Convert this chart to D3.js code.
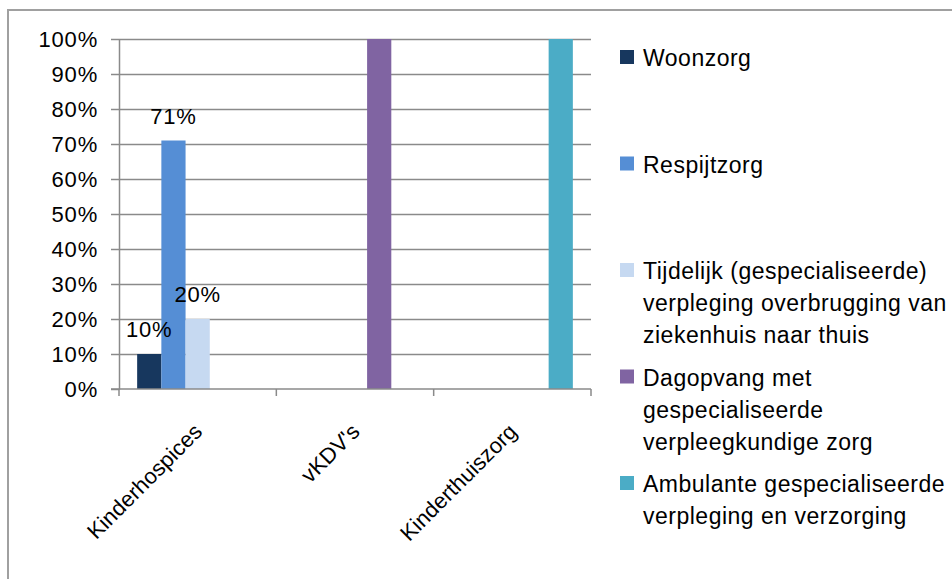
<!DOCTYPE html>
<html>
<head>
<meta charset="utf-8">
<script src="https://cdn.jsdelivr.net/npm/d3@7"></script>
<style>
  body { margin: 0; background: #fff; }
  svg { display: block; font-family: "Liberation Sans", Arial, sans-serif; }
  .grid line { stroke: #8a8a8a; stroke-width: 1.5; }
  .grid .domain { display: none; }
  .axis path, .axis line { stroke: #8a8a8a; stroke-width: 1.5; }
  .axis text { fill: #000; font-size: 22px; letter-spacing: 0.8px; }
  .axis text.cat { letter-spacing: 0.1px; }
</style>
</head>
<body>
<svg id="chart"></svg>
<script>
const categories = ["Kinderhospices", "vKDV's", "Kinderthuiszorg"];
const seriesNames = [
  "Woonzorg",
  "Respijtzorg",
  "Tijdelijk (gespecialiseerde) verpleging overbrugging van ziekenhuis naar thuis",
  "Dagopvang met gespecialiseerde verpleegkundige zorg",
  "Ambulante gespecialiseerde verpleging en verzorging"
];
const legendLines = [
  ["Woonzorg"],
  ["Respijtzorg"],
  ["Tijdelijk (gespecialiseerde)", "verpleging  overbrugging van", "ziekenhuis naar thuis"],
  ["Dagopvang met", "gespecialiseerde", "verpleegkundige zorg"],
  ["Ambulante gespecialiseerde", "verpleging en verzorging"]
];
const woonzorg = [0.10, null, null];
const respijtzorg = [0.71, null, null];
const tijdelijk = [0.20, null, null];
const dagopvang = [null, 1.00, null];
const ambulante = [null, null, 1.00];
const yTicks = [0, 0.1, 0.2, 0.3, 0.4, 0.5, 0.6, 0.7, 0.8, 0.9, 1.0];
const colors = ["#17375e", "#558ed5", "#c6d9f1", "#8064a2", "#4bacc6"];
const showLabels = [true, true, true, false, false];

const seriesValues = [woonzorg, respijtzorg, tijdelijk, dagopvang, ambulante];

const W = 952, H = 579;
const plot = { left: 119, right: 591, top: 39, bottom: 389 };
const fmtPct = d3.format(".0%");

const svg = d3.select("#chart")
    .attr("width", W)
    .attr("height", H);

// outer chart border
svg.append("rect")
    .attr("x", 8).attr("y", 10)
    .attr("width", W + 20).attr("height", H + 20)
    .attr("fill", "none")
    .attr("stroke", "#a0a0a0")
    .attr("stroke-width", 2);

const x0 = d3.scaleBand()
    .domain(categories)
    .range([plot.left, plot.right])
    .padding(0);

const x1 = d3.scaleBand()
    .domain(d3.range(seriesNames.length))
    .range([0, x0.bandwidth()])
    .paddingInner(0)
    .paddingOuter(0.75);

const y = d3.scaleLinear()
    .domain([0, 1])
    .range([plot.bottom, plot.top]);

// gridlines
svg.append("g")
    .attr("class", "grid")
    .attr("transform", `translate(${plot.left},0)`)
    .call(d3.axisLeft(y).tickValues(yTicks.slice(1))
        .tickSize(-(plot.right - plot.left))
        .tickFormat(""));

// bars
const bars = [];
seriesValues.forEach((vals, si) => {
    vals.forEach((v, ci) => {
        if (v != null) bars.push({ si, cat: categories[ci], v });
    });
});

svg.append("g")
    .selectAll("rect")
    .data(bars)
    .join("rect")
    .attr("x", d => x0(d.cat) + x1(d.si))
    .attr("y", d => y(d.v))
    .attr("width", x1.bandwidth())
    .attr("height", d => y(0) - y(d.v))
    .attr("fill", d => colors[d.si]);

// y axis
svg.append("g")
    .attr("class", "axis")
    .attr("transform", `translate(${plot.left},0)`)
    .call(d3.axisLeft(y).tickValues(yTicks)
        .tickSize(8).tickSizeOuter(0)
        .tickPadding(13)
        .tickFormat(fmtPct));

// x axis
const xAxis = svg.append("g")
    .attr("class", "axis")
    .attr("transform", `translate(0,${plot.bottom})`);
xAxis.append("line")
    .attr("x1", plot.left - 8).attr("x2", plot.right)
    .attr("y1", 0).attr("y2", 0);
const xTicks = categories.map(c => x0(c)).concat([plot.right]);
xAxis.selectAll("line.tick")
    .data(xTicks)
    .join("line")
    .attr("class", "tick")
    .attr("x1", d => d).attr("x2", d => d)
    .attr("y1", 0).attr("y2", 7);
xAxis.selectAll("text")
    .data(categories)
    .join("text")
    .attr("class", "cat")
    .attr("text-anchor", "end")
    .attr("transform", d => `translate(${x0(d) + x0.bandwidth() / 2 + 6},${44}) rotate(-45)`)
    .text(d => d);

// data labels
svg.append("g")
    .selectAll("text")
    .data(bars.filter(d => showLabels[d.si]))
    .join("text")
    .attr("x", d => x0(d.cat) + x1(d.si) + x1.bandwidth() / 2)
    .attr("y", d => y(d.v) - 17)
    .attr("text-anchor", "middle")
    .attr("font-size", 22)
    .attr("letter-spacing", 0.8)
    .attr("fill", "#000")
    .text(d => fmtPct(d.v));

// legend
const legend = svg.append("g")
    .selectAll("g")
    .data(seriesNames)
    .join("g")
    .attr("transform", (d, i) => `translate(620,${50 + i * 106.5})`);

legend.append("rect")
    .attr("width", 14).attr("height", 14)
    .attr("fill", (d, i) => colors[i]);

legend.append("text")
    .attr("font-size", 23)
    .attr("letter-spacing", 0.5)
    .attr("fill", "#000")
    .selectAll("tspan")
    .data((d, i) => legendLines[i])
    .join("tspan")
    .attr("x", 23)
    .attr("y", (d, j) => 16 + j * 32)
    .text(d => d);
</script>
</body>
</html>
